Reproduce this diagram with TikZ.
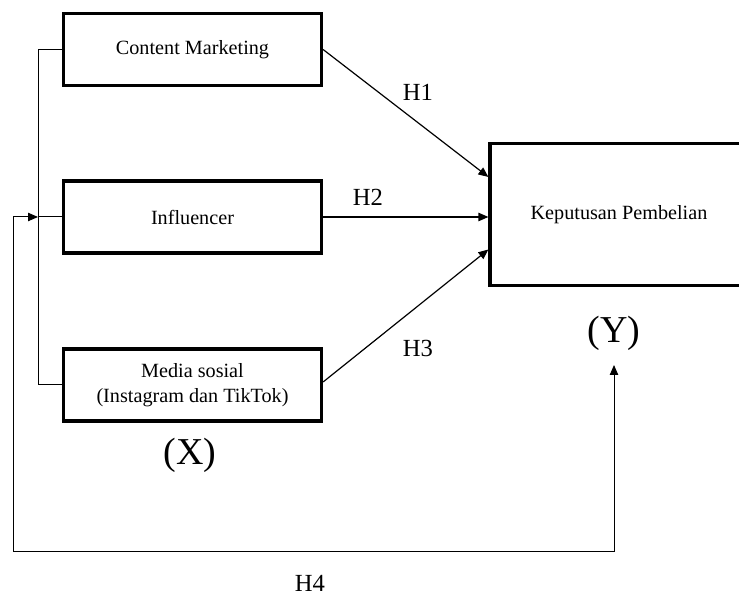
\documentclass[tikz,border=0pt]{standalone}
\usepackage{fontspec}
\setmainfont{Liberation Serif}
\usetikzlibrary{arrows.meta,positioning}
\begin{document}
\begin{tikzpicture}[x=0.5pt, y=-0.5pt,
    kotak/.style={draw, line width=1.6pt, minimum width=129pt, minimum height=36pt, align=center, font=\fontsize{10.1}{12.5}\selectfont},
    panah/.style={-{Triangle[length=5pt,width=4.2pt]}, line width=0.6pt},
    garis/.style={line width=0.5pt},
    hlabel/.style={font=\fontsize{12.3}{14}\selectfont},
    vlabel/.style={font=\fontsize{19}{22}\selectfont}]
    \useasboundingbox (0,0) rectangle (739,597);
    \node[kotak] (k1) at (192.5,49.5) {Content Marketing};
    \node[kotak] (k2) at (192.5,217) {Influencer};
    \node[kotak] (k3) at (192.5,385) {Media sosial\\(Instagram dan TikTok)};
    \node[kotak, minimum height=71pt] (ky) at (619,214.5) {Keputusan Pembelian}; % Y

    \node[hlabel] (h1) at (418,92) {H1};
    \node[hlabel] (h2) at (368,197) {H2};
    \node[hlabel] (h3) at (418,348) {H3};
    \node[hlabel] (h4) at (310,583) {H4};
    \node[vlabel] (lx) at (190,455) {(X)};
    \node[vlabel] (ly) at (614,333) {(Y)};

    % garis kiri
    \coordinate (bt) at (38,49.5);
    \coordinate (bm) at (38,217);
    \coordinate (bb) at (38,385);
    \draw[garis] (k1.west) -- (bt) -- (bb) -- (k3.west);
    \draw[garis] (bm) -- (k2.west);

    \draw[panah] (k1.east) -- ([yshift=18.75pt]ky.west);
    \draw[panah] (k2.east) -- (k2.east -| ky.west);
    \draw[panah] ([yshift=1.5pt]k3.east) -- ([yshift=-17.5pt]ky.west);

    % H4
    \coordinate (ki) at (13,217);
    \coordinate (kb) at (13,552);
    \coordinate (ka) at (614,552);
    \coordinate (yt) at (614,365);
    \draw[garis, {Triangle[length=5pt,width=4.2pt]}-{Triangle[length=5pt,width=4.2pt]}] (bm) -- (ki) -- (kb) -- (ka) -- (yt);
\end{tikzpicture}
\end{document}
